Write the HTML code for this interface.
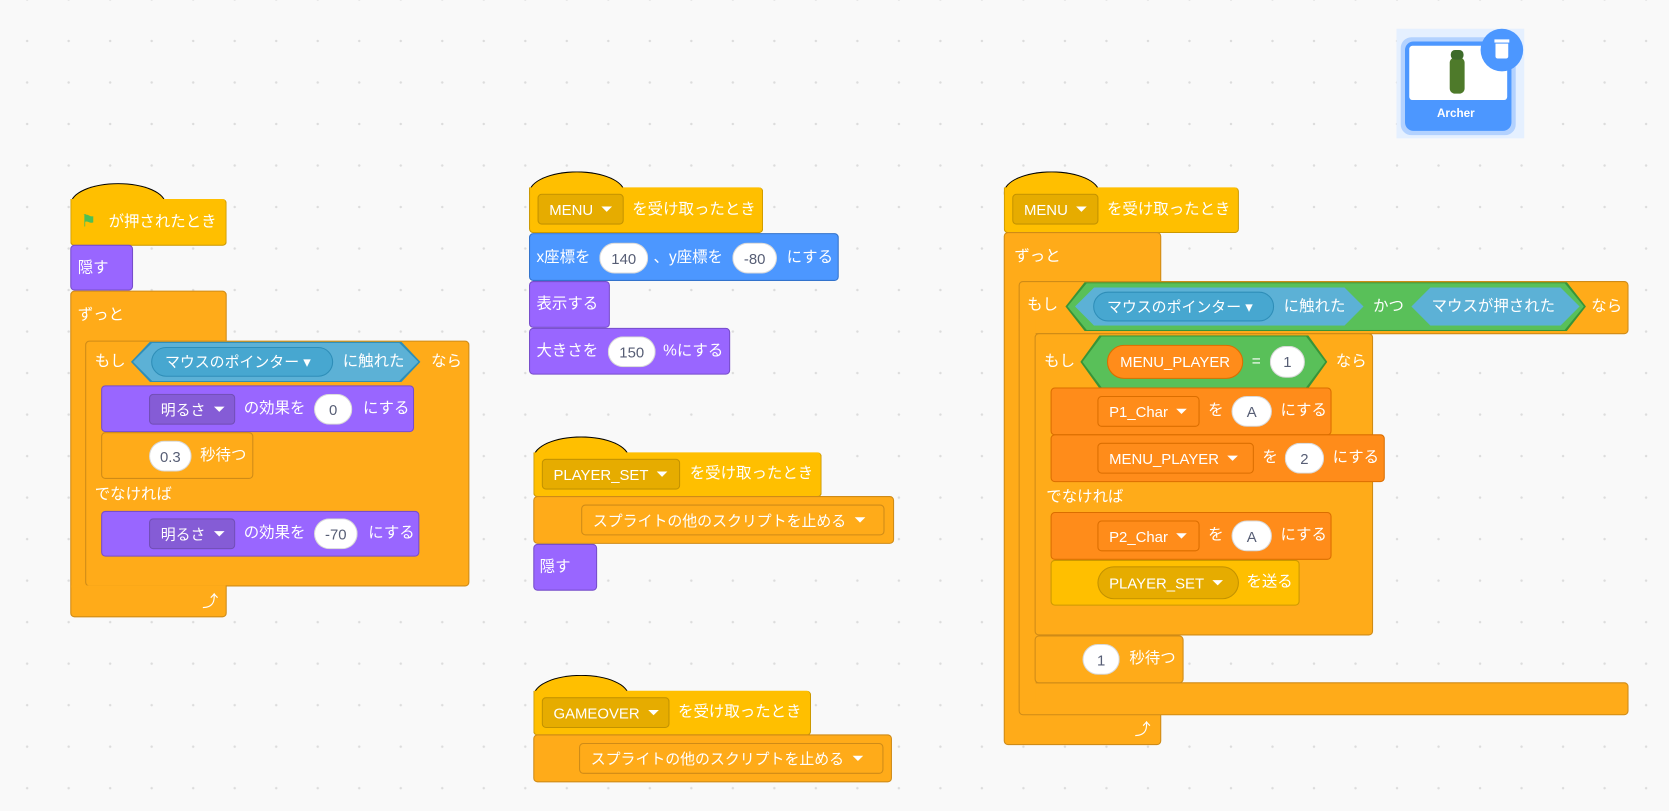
<!DOCTYPE html>
<html><head><meta charset="utf-8"><style>
html,body{margin:0;padding:0;width:1669px;height:811px;overflow:hidden;background:#f9f9f9}
#w{position:absolute;left:0;top:0;width:1568px;height:762px;transform:scale(1.0644);transform-origin:0 0;
background-image:radial-gradient(circle,#dcdcdc 1px,transparent 1.3px);background-size:39px 39px;background-position:6px 19px;
font-family:"Liberation Sans","Noto Sans CJK JP",sans-serif}
.b{position:absolute;box-sizing:border-box;border:1px solid;border-radius:4px}
.n{position:absolute;box-sizing:border-box}
.ev{background:#ffbf00;border-color:#cc9900}
.ct{background:#ffab19;border-color:#cf8b17}
.lk{background:#9966ff;border-color:#774dcb}
.mo{background:#4c97ff;border-color:#3373cc}
.va{background:#ff8c1a;border-color:#db6e00}
.t{position:absolute;color:#fff;font-size:14.5px;line-height:16px;margin-top:-8px;white-space:nowrap}
.o{position:absolute;box-sizing:border-box;background:#fff;border-radius:16px;color:#575e75;font-size:14px;display:flex;align-items:center;justify-content:center;border:1px solid rgba(0,0,0,.15)}
.d{position:absolute;box-sizing:border-box;border-radius:4px;color:#fff;font-size:14px;display:flex;align-items:center;padding-left:10px;border:1px solid rgba(0,0,0,.15);white-space:nowrap}
.d::after{content:"";border-left:5px solid transparent;border-right:5px solid transparent;border-top:5px solid #fff;margin-left:8px}
.hex{position:absolute;clip-path:polygon(18px 0,calc(100% - 18px) 0,100% 50%,calc(100% - 18px) 100%,18px 100%,0 50%)}
.hump{position:absolute;height:22px;width:90px;border-radius:45px 45px 0 0/20px 20px 0 0;border:1px solid;border-bottom:none;box-sizing:border-box}
</style></head><body><div id="w">

<!-- sprite -->
<div class="n" style="left:1312px;top:27px;width:120px;height:103px;background:#e5f0ff"></div>
<div class="n" style="left:1316px;top:35px;width:108px;height:92px;border-radius:10px;background:#b3d2ff"></div>
<div class="n" style="left:1320px;top:39px;width:100px;height:84px;border-radius:8px;background:#4c97ff"></div>
<div class="n" style="left:1324px;top:43px;width:92px;height:51px;background:#fff;border-radius:3px"></div>
<div class="n" style="left:1362px;top:54px;width:14px;height:34px;background:#4e7a2a;border-radius:5px"></div>
<div class="n" style="left:1363px;top:47px;width:12px;height:9px;background:#3d6b2a;border-radius:4px"></div>
<div class="t" style="left:1350px;top:107px;font-size:11px;font-weight:bold">Archer</div>
<div class="n" style="left:1391px;top:27px;width:40px;height:40px;border-radius:50%;background:#4c97ff"></div>
<div class="n" style="left:1404px;top:37px;width:14px;height:3px;background:#fff"></div>
<div class="n" style="left:1405px;top:41px;width:12px;height:14px;background:#fff;border-radius:0 0 2px 2px"></div>

<!-- Script 1 -->
<div class="hump ev" style="left:66px;top:172px"></div>
<div class="b ev" style="left:66px;top:187px;width:147px;height:44px;border-top:none;border-radius:0 4px 4px 4px"></div>
<div class="t" style="left:76px;top:209px;font-size:16px;color:#4cbf56">&#9873;</div>
<div class="t" style="left:102px;top:209px">が押されたとき</div>
<div class="b lk" style="left:66px;top:230px;width:59px;height:43px"></div>
<div class="t" style="left:73px;top:252px">隠す</div>
<div class="n ct" style="left:66px;top:273px;width:147px;height:307px;border-radius:4px;border:1px solid #cf8b17"></div>
<div class="n ct" style="left:80px;top:320px;width:361px;height:231px;border-radius:4px;border:1px solid #cf8b17"></div>
<div class="n" style="left:67px;top:550px;width:145px;height:2px;background:#ffab19"></div>
<div class="t" style="left:73px;top:296px">ずっと</div>
<div class="t" style="left:190px;top:566px;font-size:15px">&#10548;</div>
<div class="t" style="left:89px;top:340px">もし</div>
<div class="hex" style="left:123px;top:321px;width:272px;height:38px;background:#2e8eb8"></div>
<div class="hex" style="left:125px;top:322px;width:268px;height:36px;background:#5cb1d6"></div>
<div class="o" style="left:142px;top:326px;width:171px;height:28px;background:#47a7d0;color:#fff;border-color:#2e8eb8;justify-content:flex-start;padding-left:12px">マウスのポインター &#9662;</div>
<div class="t" style="left:322px;top:340px">に触れた</div>
<div class="t" style="left:405px;top:340px">なら</div>
<div class="b lk" style="left:95px;top:362px;width:294px;height:44px"></div>
<div class="d" style="left:140px;top:370px;width:81px;height:29px;background:#855cd6">明るさ</div>
<div class="t" style="left:229px;top:384px">の効果を</div>
<div class="o" style="left:295px;top:370px;width:36px;height:29px">0</div>
<div class="t" style="left:341px;top:384px">にする</div>
<div class="b ct" style="left:95px;top:406px;width:143px;height:44px"></div>
<div class="o" style="left:140px;top:414px;width:40px;height:29px">0.3</div>
<div class="t" style="left:188px;top:428px">秒待つ</div>
<div class="t" style="left:89px;top:465px">でなければ</div>
<div class="b lk" style="left:95px;top:480px;width:299px;height:43px"></div>
<div class="d" style="left:140px;top:487px;width:81px;height:29px;background:#855cd6">明るさ</div>
<div class="t" style="left:229px;top:501px">の効果を</div>
<div class="o" style="left:295px;top:487px;width:41px;height:29px">-70</div>
<div class="t" style="left:346px;top:501px">にする</div>

<!-- Script 2 -->
<div class="hump ev" style="left:497px;top:161px"></div>
<div class="b ev" style="left:497px;top:176px;width:220px;height:43px;border-top:none;border-radius:0 4px 4px 4px"></div>
<div class="d" style="left:505px;top:182px;width:81px;height:29px;background:#e6ac00">MENU</div>
<div class="t" style="left:594px;top:197px">を受け取ったとき</div>
<div class="b mo" style="left:497px;top:219px;width:291px;height:45px"></div>
<div class="t" style="left:504px;top:242px">x座標を</div>
<div class="o" style="left:563px;top:228px;width:46px;height:29px">140</div>
<div class="t" style="left:614px;top:242px">、y座標を</div>
<div class="o" style="left:688px;top:228px;width:42px;height:29px">-80</div>
<div class="t" style="left:739px;top:242px">にする</div>
<div class="b lk" style="left:497px;top:264px;width:76px;height:44px"></div>
<div class="t" style="left:504px;top:286px">表示する</div>
<div class="b lk" style="left:497px;top:308px;width:189px;height:44px"></div>
<div class="t" style="left:504px;top:330px">大きさを</div>
<div class="o" style="left:571px;top:316px;width:45px;height:29px">150</div>
<div class="t" style="left:623px;top:330px">%にする</div>

<div class="hump ev" style="left:501px;top:410px"></div>
<div class="b ev" style="left:501px;top:425px;width:271px;height:42px;border-top:none;border-radius:0 4px 4px 4px"></div>
<div class="d" style="left:509px;top:431px;width:130px;height:29px;background:#e6ac00">PLAYER_SET</div>
<div class="t" style="left:648px;top:445px">を受け取ったとき</div>
<div class="b ct" style="left:501px;top:466px;width:339px;height:45px"></div>
<div class="d" style="left:546px;top:474px;width:285px;height:29px;background:#ffab19;border-color:#cf8b17">スプライトの他のスクリプトを止める</div>
<div class="b lk" style="left:501px;top:511px;width:60px;height:44px"></div>
<div class="t" style="left:507px;top:533px">隠す</div>

<div class="hump ev" style="left:501px;top:634px"></div>
<div class="b ev" style="left:501px;top:649px;width:261px;height:42px;border-top:none;border-radius:0 4px 4px 4px"></div>
<div class="d" style="left:509px;top:655px;width:120px;height:29px;background:#e6ac00">GAMEOVER</div>
<div class="t" style="left:637px;top:669px">を受け取ったとき</div>
<div class="b ct" style="left:501px;top:690px;width:337px;height:45px"></div>
<div class="d" style="left:544px;top:698px;width:286px;height:29px;background:#ffab19;border-color:#cf8b17">スプライトの他のスクリプトを止める</div>

<!-- Script 3 -->
<div class="hump ev" style="left:943px;top:161px"></div>
<div class="b ev" style="left:943px;top:176px;width:221px;height:43px;border-top:none;border-radius:0 4px 4px 4px"></div>
<div class="d" style="left:951px;top:182px;width:81px;height:29px;background:#e6ac00">MENU</div>
<div class="t" style="left:1040px;top:197px">を受け取ったとき</div>
<div class="n ct" style="left:943px;top:218px;width:148px;height:482px;border-radius:4px;border:1px solid #cf8b17"></div>
<!-- outer if -->
<div class="n ct" style="left:957px;top:264px;width:573px;height:50px;border-radius:4px;border:1px solid #cf8b17"></div>
<div class="n ct" style="left:957px;top:641px;width:573px;height:31px;border-radius:4px;border:1px solid #cf8b17"></div>
<div class="n ct" style="left:957px;top:300px;width:16px;height:360px;border-left:1px solid #cf8b17"></div>
<div class="t" style="left:953px;top:241px">ずっと</div>
<div class="t" style="left:1066px;top:686px;font-size:15px">&#10548;</div>
<!-- inner if-else -->
<div class="n ct" style="left:972px;top:313px;width:318px;height:284px;border-radius:4px;border:1px solid #cf8b17"></div>
<div class="t" style="left:965px;top:287px">もし</div>
<div class="hex" style="left:1001px;top:265px;width:489px;height:46px;background:#389438"></div>
<div class="hex" style="left:1003px;top:266px;width:485px;height:44px;background:#59c059"></div>
<div class="hex" style="left:1010px;top:270px;width:271px;height:36px;background:#5cb1d6"></div>
<div class="o" style="left:1027px;top:274px;width:170px;height:28px;background:#47a7d0;color:#fff;border-color:#2e8eb8;justify-content:flex-start;padding-left:12px">マウスのポインター &#9662;</div>
<div class="t" style="left:1206px;top:288px">に触れた</div>
<div class="t" style="left:1290px;top:288px">かつ</div>
<div class="hex" style="left:1326px;top:270px;width:158px;height:36px;background:#5cb1d6"></div>
<div class="t" style="left:1345px;top:288px">マウスが押された</div>
<div class="t" style="left:1495px;top:288px">なら</div>
<div class="t" style="left:981px;top:340px">もし</div>
<div class="hex" style="left:1015px;top:315px;width:232px;height:50px;background:#389438"></div>
<div class="hex" style="left:1017px;top:316px;width:228px;height:48px;background:#59c059"></div>
<div class="o" style="left:1040px;top:324px;width:128px;height:32px;background:#ff8c1a;color:#fff;border-color:#db6e00">MENU_PLAYER</div>
<div class="t" style="left:1176px;top:340px">=</div>
<div class="o" style="left:1193px;top:325px;width:33px;height:30px">1</div>
<div class="t" style="left:1255px;top:340px">なら</div>
<div class="b va" style="left:987px;top:364px;width:264px;height:45px"></div>
<div class="d" style="left:1031px;top:372px;width:96px;height:29px;background:#ff8c1a;border-color:#db6e00">P1_Char</div>
<div class="t" style="left:1135px;top:386px">を</div>
<div class="o" style="left:1157px;top:372px;width:38px;height:29px">A</div>
<div class="t" style="left:1203px;top:386px">にする</div>
<div class="b va" style="left:987px;top:408px;width:314px;height:45px"></div>
<div class="d" style="left:1031px;top:416px;width:147px;height:29px;background:#ff8c1a;border-color:#db6e00">MENU_PLAYER</div>
<div class="t" style="left:1186px;top:430px">を</div>
<div class="o" style="left:1207px;top:416px;width:37px;height:29px">2</div>
<div class="t" style="left:1252px;top:430px">にする</div>
<div class="t" style="left:983px;top:467px">でなければ</div>
<div class="b va" style="left:987px;top:481px;width:264px;height:45px"></div>
<div class="d" style="left:1031px;top:489px;width:96px;height:29px;background:#ff8c1a;border-color:#db6e00">P2_Char</div>
<div class="t" style="left:1135px;top:503px">を</div>
<div class="o" style="left:1157px;top:489px;width:38px;height:29px">A</div>
<div class="t" style="left:1203px;top:503px">にする</div>
<div class="b ev" style="left:987px;top:526px;width:234px;height:43px"></div>
<div class="d" style="left:1031px;top:532px;width:133px;height:31px;background:#e6ac00;border-radius:16px">PLAYER_SET</div>
<div class="t" style="left:1171px;top:547px">を送る</div>
<div class="b ct" style="left:972px;top:597px;width:140px;height:45px"></div>
<div class="o" style="left:1017px;top:605px;width:35px;height:29px">1</div>
<div class="t" style="left:1061px;top:619px">秒待つ</div>

</div></body></html>
